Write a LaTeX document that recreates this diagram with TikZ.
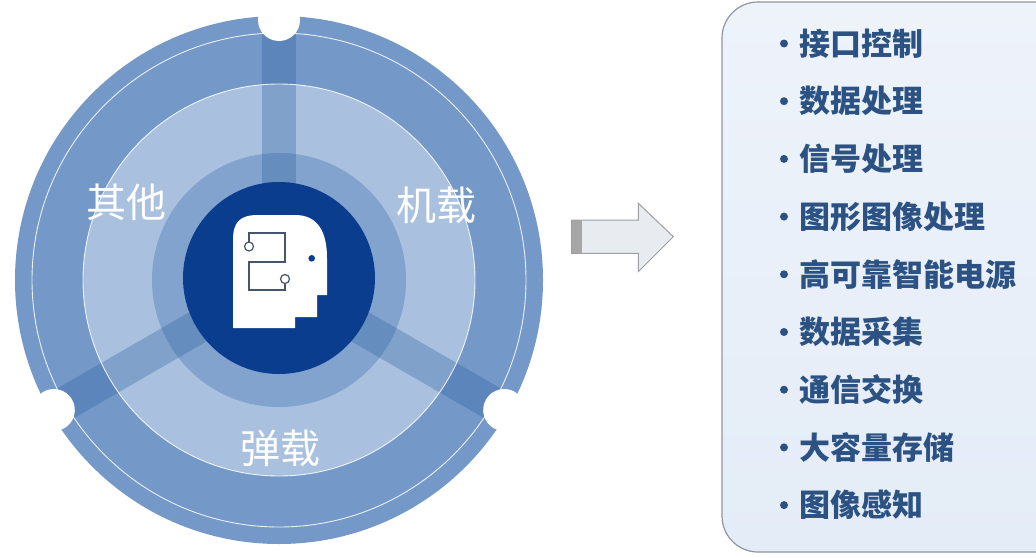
\documentclass[tikz,border=0pt]{standalone}
\usepackage{fontspec}
\newfontfamily\cjk{Noto Sans CJK SC}
\definecolor{ringA}{HTML}{7499C9}
\definecolor{ringB}{HTML}{A9C1DE}
\definecolor{ringC}{HTML}{82A3CE}
\definecolor{spokeC}{HTML}{2A5F9F}
\definecolor{core}{HTML}{0B3D8F}
\definecolor{iconline}{HTML}{46546E}
\definecolor{listtxt}{HTML}{2B5282}
\definecolor{boxtop}{HTML}{EEF3FA}
\definecolor{boxfill}{HTML}{E4ECF7}
\definecolor{boxline}{HTML}{8E969F}
\definecolor{arrowfill}{HTML}{E8EBF0}
\definecolor{arrowline}{HTML}{9C9FA4}
\begin{document}
\begin{tikzpicture}[x=1pt,y=-1pt,
  lbl/.style={font=\cjk\fontsize{40}{40}\selectfont, text=white, inner sep=0},
  item/.style={font=\cjk\bfseries\fontsize{31}{31}\selectfont, text=listtxt, anchor=west, inner sep=0},
  bul/.style={fill=listtxt},
  spoke/.style={fill=spokeC, opacity=0.32},
  thinring/.style={draw=white, line width=0.9pt, opacity=0.85},
  icon/.style={draw=iconline, line width=1.3pt}]
\useasboundingbox (0,0) rectangle (1036,557);
\clip (0,0) rectangle (1036,557);
\fill[white] (0,0) rectangle (1036,557);
\coordinate (C) at (279,280);
% rings
\fill[ringA] (C) circle (264pt);
\fill[ringB] (C) circle (196pt);
\fill[ringC] (C) circle (127pt);
\begin{scope}[shift={(C)}]
  \foreach \a in {90,210,330} \fill[spoke, rotate=\a] (0,-17) rectangle (266,17);
\end{scope}
\draw[thinring] (C) circle (247pt);
\draw[thinring] (C) circle (196pt);
\begin{scope}[shift={(C)}]
  \foreach \a in {90,210,330} \fill[white, rotate=\a] (260,0) circle (21pt);
\end{scope}
% core
\node[circle, fill=core, minimum size=192pt, inner sep=0] (core) at (279,278) {};
% head icon
\fill[white] (233,328) -- (233,240) .. controls (233,222) and (240,215) .. (258,215)
  -- (295,215) .. controls (318,215) and (327,232) .. (327,258)
  -- (327,295) -- (317,295) -- (317,317) -- (295,317) -- (295,328) -- cycle;
\draw[icon] (249,242) -- (249,233) -- (285,233) -- (285,262) -- (249,262) -- (249,290) -- (285,290) -- (285,283.5);
\draw[icon, line width=1.2pt, fill=white] (249,246.5) circle (4.5pt);
\draw[icon, line width=1.2pt, fill=white] (285,279) circle (4.5pt);
\fill[core] (311.7,258.3) circle (3.3pt);
% labels
\node[lbl] (l1) at (126,202) {其他};
\node[lbl] (l2) at (436,205) {机载};
\node[lbl] (l3) at (280,448) {弹载};
% arrow
\filldraw[fill=arrowfill, draw=arrowline, line width=1pt]
  (571.7,220) -- (638.3,220) -- (638.3,203.3) -- (673.3,236.7) -- (638.3,271.7) -- (638.3,253.3) -- (571.7,253.3) -- cycle;
\fill[gray!70] (571.7,220) rectangle (581.7,253.3);
% list box
\path[draw=boxline, line width=1.2pt, top color=boxtop, bottom color=boxfill, rounded corners=36pt]
  (722,2) rectangle (1075,552);
\foreach \t [count=\i from 0] in {接口控制,数据处理,信号处理,图形图像处理,高可靠智能电源,数据采集,通信交换,大容量存储,图像感知} {
  \coordinate (b\i) at (784,{43.5+57.7*\i});
  \fill[bul] (b\i) circle (4pt);
  \node[item] (t\i) at (799,{43.5+57.7*\i}) {\t};
}
\end{tikzpicture}
\end{document}
